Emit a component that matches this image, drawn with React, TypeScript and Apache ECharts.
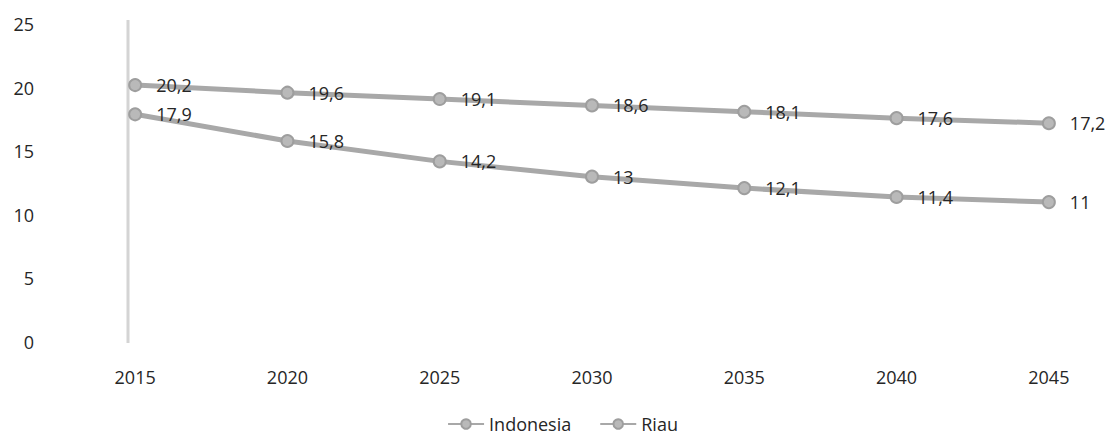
import React, { useEffect, useRef } from "react";
import * as echarts from "echarts";

const years = ["2015", "2020", "2025", "2030", "2035", "2040", "2045"];
const indonesia = [20.2, 19.6, 19.1, 18.6, 18.1, 17.6, 17.2];
const riau = [17.9, 15.8, 14.2, 13, 12.1, 11.4, 11];
const seriesNames = ["Indonesia", "Riau"];

const FONT = "'Open Sans', 'Noto Sans', sans-serif";
const LINE = "#a8a8a8";
const TEXT = "#262626";

const lineSeries = (name: string, data: number[]) => ({
  name,
  type: "line",
  data,
  symbol: "circle",
  symbolSize: 12,
  itemStyle: { color: "#b9b9b9", borderColor: "#9e9e9e", borderWidth: 2 },
  lineStyle: { color: LINE, width: 5 },
  label: {
    show: true,
    position: "right",
    distance: 14,
    color: TEXT,
    fontSize: 18,
    fontFamily: FONT,
    formatter: (p: any) => String(p.value).replace(".", ","),
  },
});

export default function App() {
  const ref = useRef<HTMLDivElement>(null);
  useEffect(() => {
    const chart = echarts.init(ref.current!, undefined, { renderer: "svg" });
    chart.setOption({
      animation: false,
      backgroundColor: "#ffffff",
      textStyle: { fontFamily: FONT },
      // the last category band runs past the visible edge, so the canvas is a bit wider than the frame
      grid: { left: 59, top: 24, right: 0, bottom: 97 },
      xAxis: {
        type: "category",
        data: years,
        boundaryGap: true,
        axisLine: { show: false },
        axisTick: { show: false },
        axisLabel: { color: TEXT, fontSize: 18, margin: 26, fontFamily: FONT },
      },
      yAxis: {
        type: "value",
        min: 0,
        max: 25,
        interval: 5,
        splitLine: { show: false },
        axisLine: { show: false },
        axisTick: { show: false },
        axisLabel: { color: TEXT, fontSize: 18, margin: 25, fontFamily: FONT },
      },
      legend: {
        bottom: 1,
        left: "center",
        itemWidth: 36,
        itemHeight: 12,
        itemGap: 28,
        data: seriesNames,
        textStyle: { color: TEXT, fontSize: 18, fontFamily: FONT },
      },
      graphic: [
        {
          type: "line",
          shape: { x1: 128, y1: 20, x2: 128, y2: 343 },
          style: { stroke: "#d4d4d4", lineWidth: 3 },
          silent: true,
        },
      ],
      series: [lineSeries(seriesNames[0], indonesia), lineSeries(seriesNames[1], riau)],
    });
    return () => chart.dispose();
  }, []);
  return (
    <div style={{ width: 1113, height: 439, margin: -8, overflow: "hidden" }}>
      <div ref={ref} style={{ width: 1125, height: 439 }} />
    </div>
  );
}
